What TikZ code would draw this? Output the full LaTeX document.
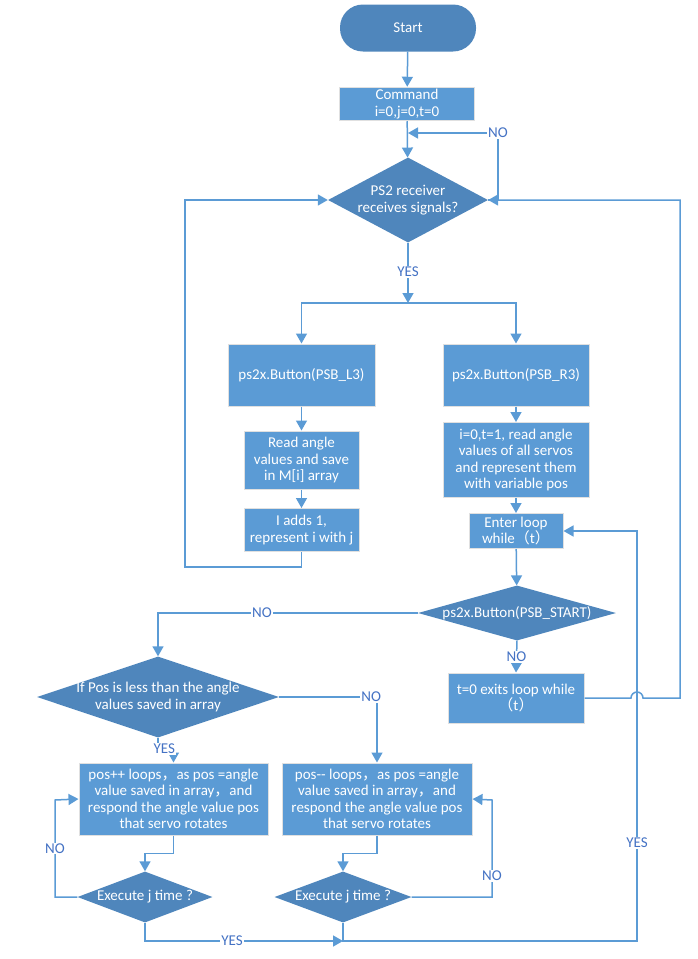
\documentclass[tikz,border=0pt]{standalone}
\usepackage{fontspec}
\setmainfont{Carlito}
\newfontfamily\cjk{Noto Sans CJK SC}
\usetikzlibrary{arrows.meta, shapes.geometric}

\definecolor{boxblue}{RGB}{91,155,213}
\definecolor{diablue}{RGB}{79,134,188}
\definecolor{lineblue}{RGB}{91,155,213}
\definecolor{lblblue}{RGB}{68,114,196}

\newcommand{\fwl}{{\cjk （}}
\newcommand{\fwr}{{\cjk ）}}
\newcommand{\fwc}{{\cjk ，}}

\begin{document}
\begin{tikzpicture}[x=1pt, y=-1pt,
  font=\fontsize{15}{16.5}\selectfont,
  box/.style={rectangle, fill=boxblue, draw=black!12, line width=1pt, text=white, align=center, inner sep=2pt},
  dia/.style={diamond, fill=diablue, inner sep=0pt},
  term/.style={rectangle, rounded corners=23pt, fill=diablue, text=white, minimum width=136pt, minimum height=47pt},
  txt/.style={text=white, align=center},
  line/.style={draw=lineblue, line width=1.5pt, -{Triangle[width=11pt,length=10pt]}},
  lbl/.style={fill=white, text=lblblue, inner sep=1pt}]
\useasboundingbox (0,0) rectangle (697,959);

% top
\node[term] (start) at (408,28) {Start};
\node[box, minimum width=135pt, minimum height=33pt] (cmd) at (407,104) {Command\\i=0,j=0,t=0};
\node[dia, minimum width=160pt, minimum height=85pt, label={[txt]center:PS2 receiver\\receives signals?}] (recv) at (408,200) {};
\coordinate (nojoin) at (408,133);
\coordinate (recvno) at (498,133);
\coordinate (split) at (408,303);

% left branch
\node[box, minimum width=147pt, minimum height=62pt] (l3) at (301.5,375) {ps2x.Button(PSB\_L3)};
\node[box, minimum width=115pt, minimum height=58pt] (readang) at (301.5,460) {Read angle\\values and save\\in M[i] array};
\node[box, minimum width=115pt, minimum height=43pt] (iadd) at (301.5,530) {I adds 1,\\represent i with j};
\coordinate (loopL) at (185,567);

% right branch
\node[box, minimum width=146pt, minimum height=62pt] (r3) at (516,375) {ps2x.Button(PSB\_R3)};
\node[box, minimum width=146pt, minimum height=75pt] (rinit) at (516,460) {i=0,t=1, read angle\\values of all servos\\and represent them\\with variable pos};
\node[box, minimum width=94pt, minimum height=35pt] (enter) at (516,531) {Enter loop\\while\fwl t\fwr};
\node[dia, minimum width=198pt, minimum height=55pt, label={[txt]center:ps2x.Button(PSB\_START)}] (sdia) at (517,613) {};
\node[box, minimum width=136pt, minimum height=50pt] (exit) at (516,698) {t=0 exits loop while\\\fwl t\fwr};
\coordinate (hop) at (637,698);
\coordinate (rloop) at (680,698);

% bottom
\node[dia, minimum width=242pt, minimum height=81pt, label={[txt]center:If Pos is less than the angle\\values saved in array}] (ldia) at (158,697) {};
\coordinate (yesL) at (158,749);
\node[box, minimum width=189pt, minimum height=72pt] (pp) at (173.5,799) {pos++ loops\fwc as pos =angle\\value saved in array\fwc and\\respond the angle value pos\\that servo rotates};
\node[box, minimum width=190pt, minimum height=72pt] (pm) at (377,799) {pos-{}- loops\fwc as pos =angle\\value saved in array\fwc and\\respond the angle value pos\\that servo rotates};
\node[dia, minimum width=135pt, minimum height=51pt, label={[txt]center:Execute j time ?}] (exL) at (145,897) {};
\node[dia, minimum width=137pt, minimum height=51pt, label={[txt]center:Execute j time ?}] (exR) at (343,897) {};
\coordinate (noL) at (55,800);
\coordinate (noR) at (492,800);
\coordinate (joinB) at (343,941);
\coordinate (yesR) at (637,941);

% connectors
\draw[line] (start) -- (cmd);
\draw[line] (cmd) -- (recv);
\draw[line] (recv.east) -| (recvno) node[lbl]{NO} -- (nojoin);
\draw[line] (recv.south) -- (split) node[lbl, pos=0.48]{YES};
\draw[line] (split) -| (l3.north);
\draw[line] (split) -| (r3.north);
\draw[line] (l3) -- (readang);
\draw[line] (readang) -- (iadd);
\draw[line] (iadd.south) |- (loopL) |- (recv.west);
\draw[line] (r3) -- (rinit);
\draw[line] (rinit) -- (enter);
\draw[line] (enter) -- (sdia);
\draw[line] (sdia.west) -| (ldia.north) node[lbl, pos=0.3]{NO};
\draw[line] (sdia.south) -- (exit.north) node[lbl, midway]{NO};
\draw[line] (exit.east) -- ([xshift=-6pt]hop) arc[start angle=180, end angle=0, radius=6pt] -- (rloop) |- (recv.east);
\draw[line] (ldia.east) -| (pm.north) node[lbl, pos=0.47]{NO};
\draw[line] (ldia.south) -- (yesL) -| (pp.north) node[lbl, pos=0.2]{YES};
\draw[line] (pp.south) -- ++(0,18) -| (exL.north);
\draw[line] (pm.south) -- ++(0,18) -| (exR.north);
\draw[line] (exL.west) -| (noL) node[lbl, pos=0.75]{NO} -- (pp.west);
\draw[line] (exR.east) -| (noR) node[lbl, pos=0.61]{NO} -- (pm.east);
\draw[line] (exL.south) |- (joinB) node[lbl, pos=0.72]{YES};
\draw[line] (exR.south) -- (joinB) -- (yesR) |- (enter.east) node[lbl, pos=0.12]{YES};
\end{tikzpicture}
\end{document}
